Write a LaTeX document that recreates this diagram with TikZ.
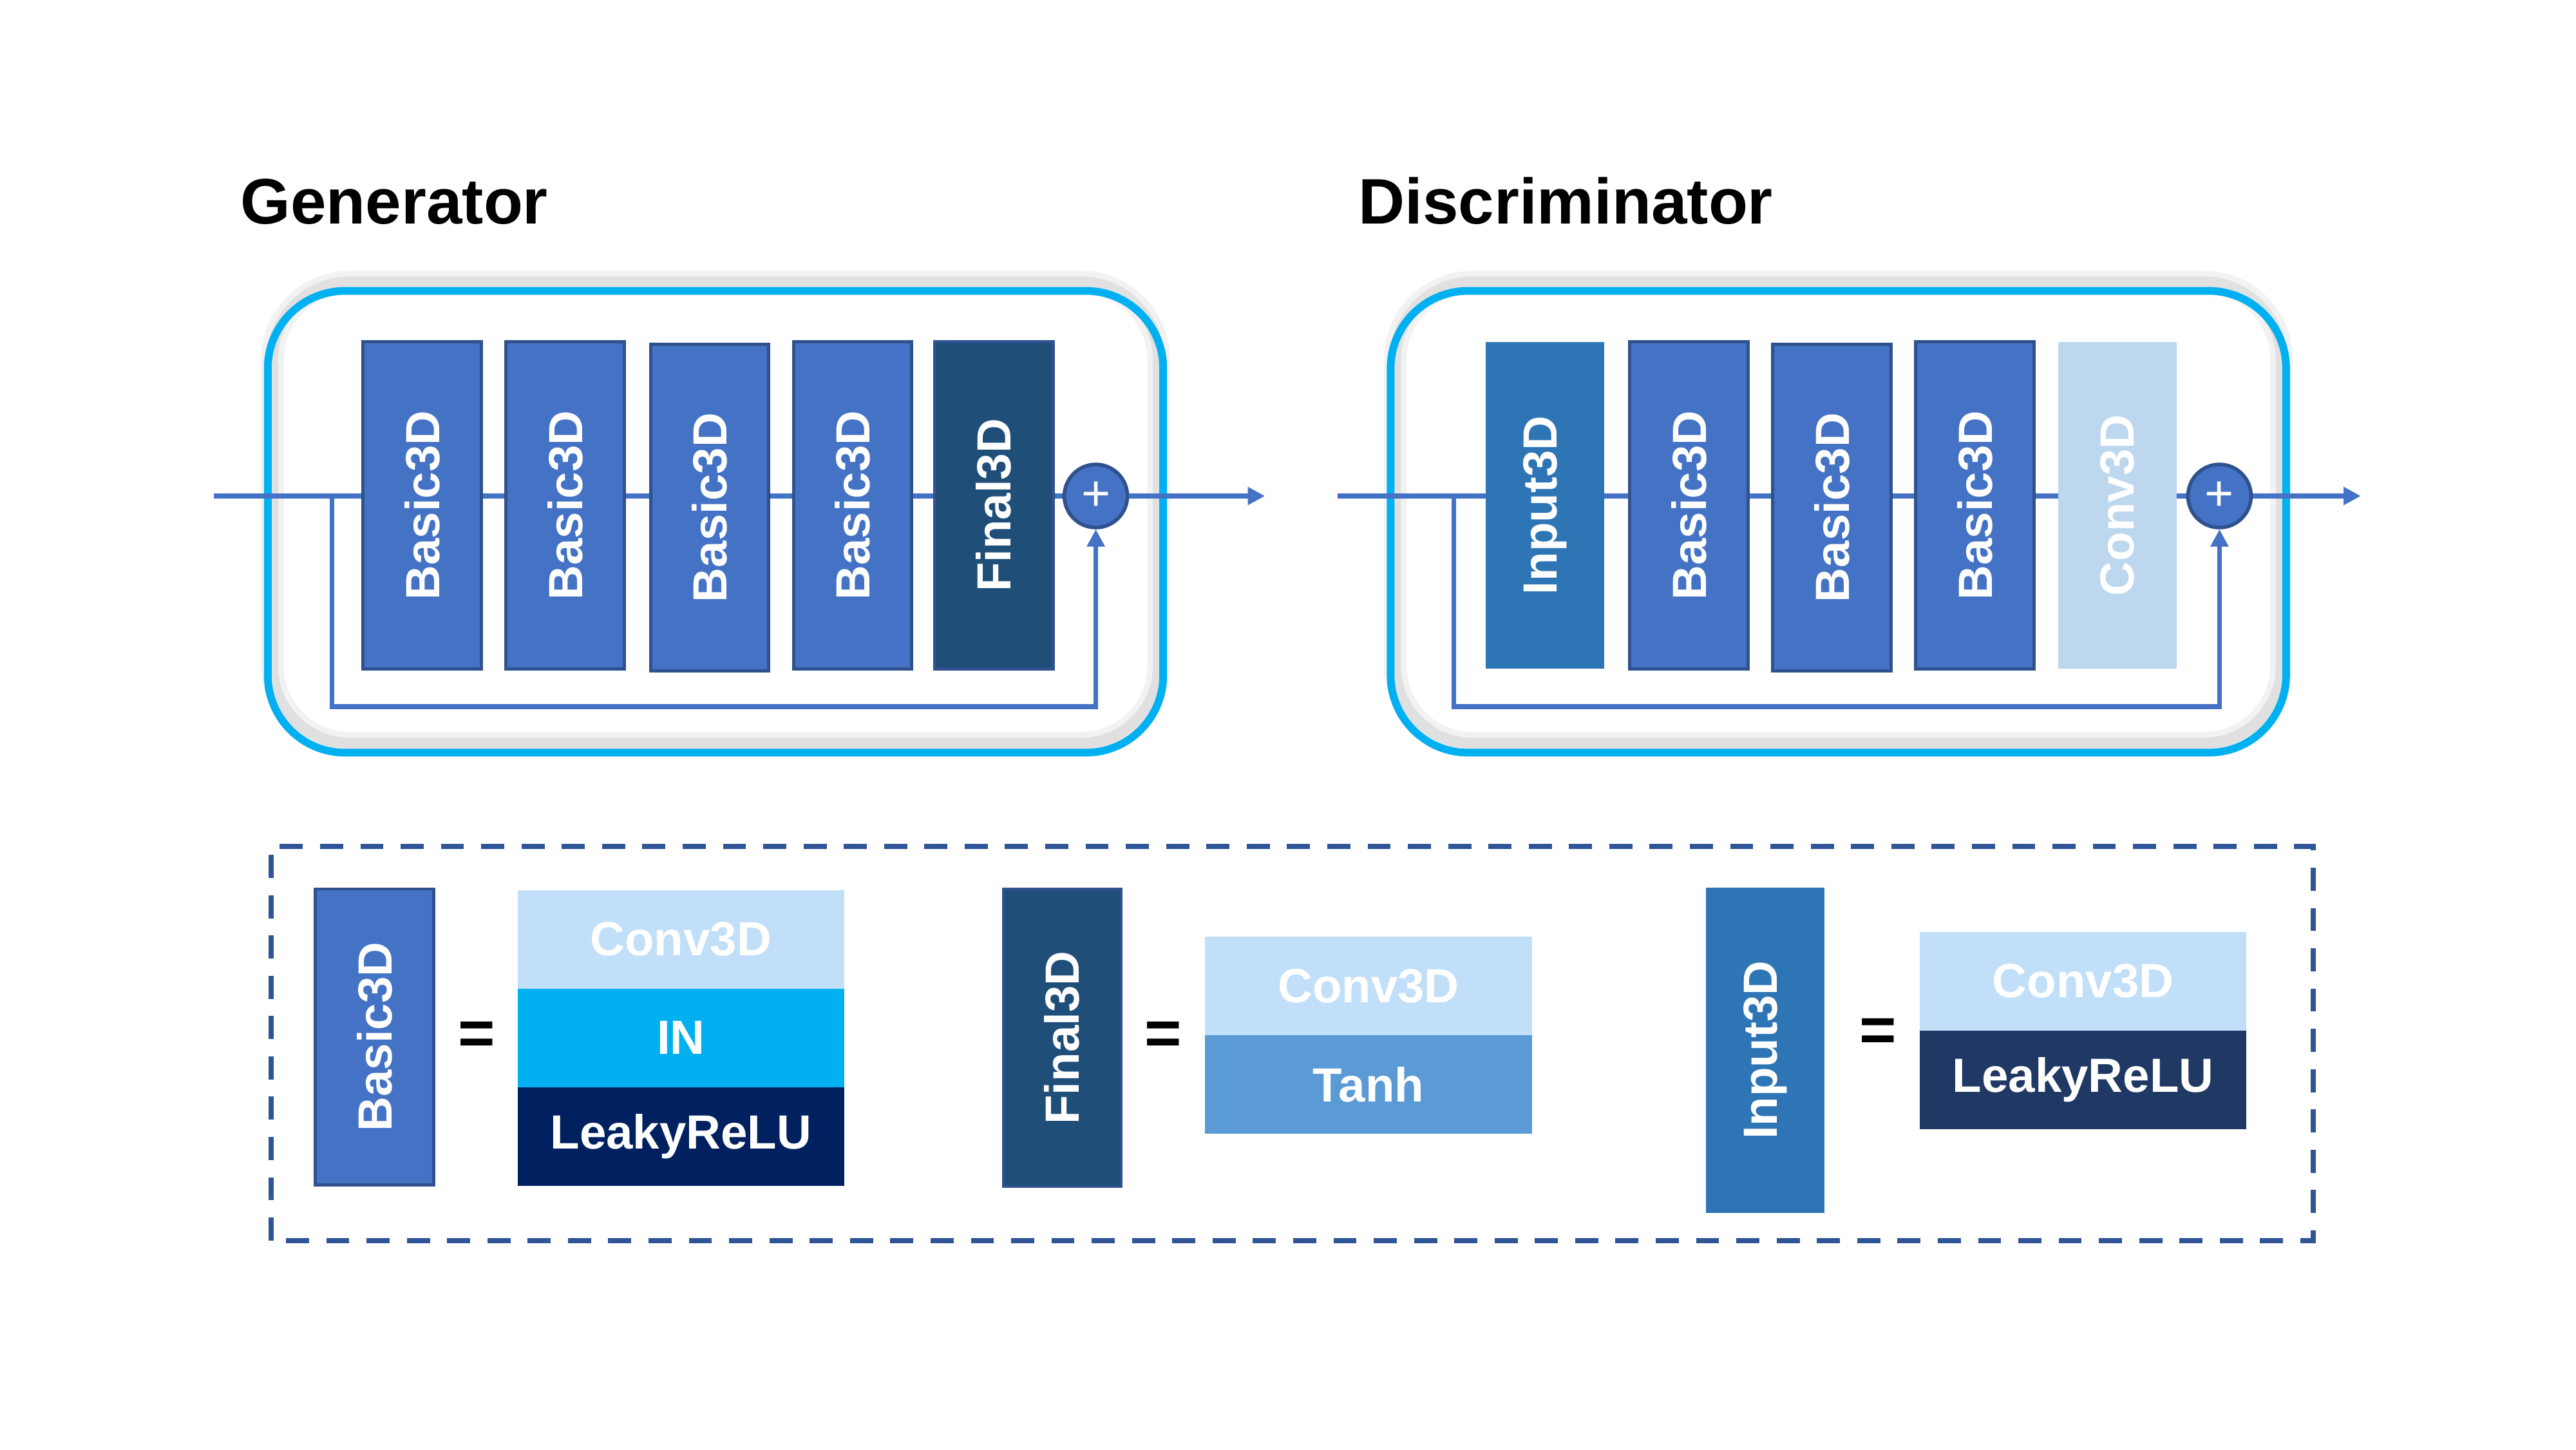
\documentclass[tikz,border=0pt]{standalone}
\usepackage{fontspec}
\setmainfont{Liberation Sans}
\usetikzlibrary{arrows.meta,positioning,backgrounds}
\definecolor{basicblue}{HTML}{4472C4}
\definecolor{basicedge}{HTML}{2F528F}
\definecolor{finalblue}{HTML}{1F4E79}
\definecolor{inputblue}{HTML}{2E75B6}
\definecolor{convpale}{HTML}{BDD7EE}
\definecolor{convlight}{HTML}{C2DFF9}
\definecolor{normcyan}{HTML}{00B0F0}
\definecolor{leakynavy}{HTML}{002060}
\definecolor{leakydark}{HTML}{203864}
\definecolor{tanhblue}{HTML}{5B9BD5}
\definecolor{dashblue}{HTML}{2F5597}
\tikzset{
  >={Triangle[length=3.8pt,width=3.8pt]},
  blk/.style={rectangle,rotate=90,minimum width=2.538cm,minimum height=0.918cm,inner sep=0pt,outer sep=0pt,text=white,font=\fontsize{10.6}{12}\selectfont\bfseries},
  basic/.style={blk,fill=basicblue,draw=basicedge,line width=0.7pt},
  row/.style={rectangle,minimum width=2.538cm,minimum height=0.765cm,inner sep=0pt,outer sep=0pt,text=white,font=\fontsize{10.6}{12}\selectfont\bfseries},
  sum/.style={circle,fill=basicblue,draw=basicedge,line width=0.8pt,minimum size=0.49cm,inner sep=0pt,text=white,font=\fontsize{11}{11}\selectfont},
  eq/.style={inner sep=0pt,font=\fontsize{14}{14}\selectfont\bfseries},
  title/.style={inner sep=0pt,anchor=base west,font=\fontsize{14.2}{17}\selectfont\bfseries},
  flow/.style={draw=basicblue,line width=1.1pt},
}
\begin{document}
\begin{tikzpicture}
\useasboundingbox (0,0) rectangle (20,11.25);
\node[title] (gtitle) at (1.862,9.51) {Generator};
\node[title] (dtitle) at (10.54,9.51) {Discriminator};
% generator
\node[basic] (gb1) at (3.278,7.328) {Basic3D};
\node[basic] (gb2) at (4.388,7.328) {Basic3D};
\node[basic] (gb3) at (5.510,7.310) {Basic3D};
\node[basic] (gb4) at (6.620,7.328) {Basic3D};
\node[blk,fill=finalblue,draw=basicedge,line width=0.7pt] (gfin) at (7.717,7.328) {Final3D};
\node[sum] (gsum) at (8.508,7.40) {+};
\coordinate (gin) at (1.658,7.40);
\coordinate (gtap) at (2.577,7.40);
\coordinate (gbot) at (8.508,5.765);
\coordinate (gout) at (9.821,7.40);
\draw[flow,->] (gsum) -- (gout);
\draw[flow,->] (gtap) |- (gbot) -- (gsum.south);
% discriminator
\node[blk,fill=inputblue] (din3) at (11.996,7.328) {Input3D};
\node[basic] (db1) at (13.112,7.328) {Basic3D};
\node[basic] (db2) at (14.222,7.310) {Basic3D};
\node[basic] (db3) at (15.332,7.328) {Basic3D};
\node[blk,fill=convpale] (dconv) at (16.441,7.328) {Conv3D};
\node[sum] (dsum) at (17.232,7.40) {+};
\coordinate (din) at (10.383,7.40);
\coordinate (dtap) at (11.288,7.40);
\coordinate (dbot) at (17.232,5.765);
\coordinate (dout) at (18.329,7.40);
\draw[flow,->] (dsum) -- (dout);
\draw[flow,->] (dtap) |- (dbot) -- (dsum.south);
% frames and through lines behind the blocks
\begin{scope}[on background layer]
\foreach \cx in {5.555,14.273}{
  \fill[white,rounded corners=0.6cm] (\cx-3.476,5.408) rectangle (\cx+3.476,8.992);
  \draw[black,opacity=0.05,line width=5pt,rounded corners=0.6cm] (\cx-3.44,5.48) rectangle (\cx+3.44,9.06);
  \draw[black,opacity=0.07,line width=2.5pt,rounded corners=0.6cm] (\cx-3.44,5.48) rectangle (\cx+3.44,9.06);
  \draw[normcyan,line width=1.7pt,rounded corners=0.6cm] (\cx-3.476,5.408) rectangle (\cx+3.476,8.992);
}
\draw[flow] (gin) -- (gsum);
\draw[flow] (din) -- (dsum);
\end{scope}
% legend
\draw[dashblue,line width=1.15pt,dash pattern=on 5.1pt off 3.8pt] (2.105,1.620) rectangle (17.959,4.681);
\node[basic,minimum width=2.296cm] (lbasic) at (2.908,3.202) {Basic3D};
\node[eq] (eq1) at (3.699,3.189) {=};
\node[row,fill=convlight] (bconv) at (5.287,3.960) {Conv3D};
\node[row,fill=normcyan,below=0pt of bconv] (bnorm) {IN};
\node[row,fill=leakynavy,below=0pt of bnorm] (bact) {LeakyReLU};
\node[blk,fill=finalblue,draw=basicedge,line width=0.5pt,minimum width=2.309cm] (lfinal) at (8.246,3.195) {Final3D};
\node[eq] (eq2) at (9.031,3.189) {=};
\node[row,fill=convlight] (fconv) at (10.625,3.597) {Conv3D};
\node[row,fill=tanhblue,below=0pt of fconv] (ftanh) {Tanh};
\node[blk,fill=inputblue,minimum width=2.526cm] (linput) at (13.705,3.099) {Input3D};
\node[eq] (eq3) at (14.579,3.214) {=};
\node[row,fill=convlight] (iconv) at (16.173,3.635) {Conv3D};
\node[row,fill=leakydark,below=0pt of iconv] (iact) {LeakyReLU};
\end{tikzpicture}
\end{document}
